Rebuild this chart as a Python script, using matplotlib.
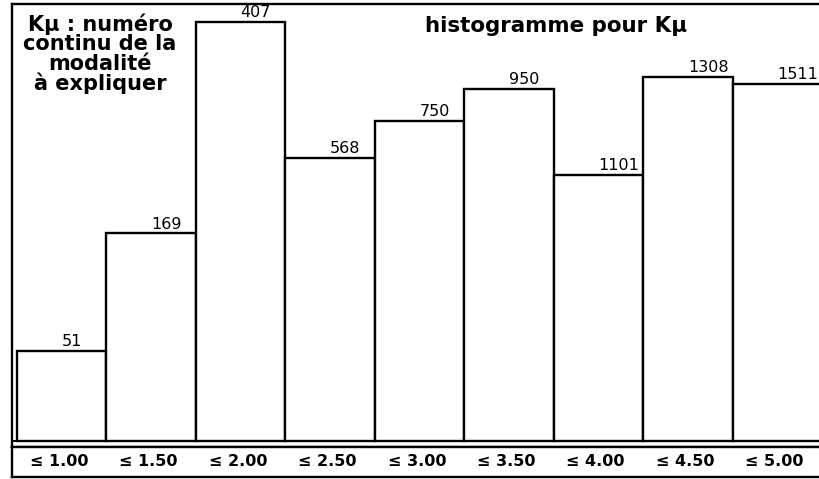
import matplotlib.pyplot as plt

# classes, effectifs et effectifs cumules
classes = ["≤ 1.00", "≤ 1.50", "≤ 2.00", "≤ 2.50", "≤ 3.00",
           "≤ 3.50", "≤ 4.00", "≤ 4.50", "≤ 5.00"]
effectifs = [51, 118, 238, 161, 182, 200, 151, 207, 203]
cumules = [51, 169, 407, 568, 750, 950, 1101, 1308, 1511]

W, H = 819, 479
fig = plt.figure(figsize=(W / 100, H / 100), dpi=100)

px_x = 89.44  # pixels par classe
left_px, right_px = 12, 826
x0 = -0.5 - (17 - left_px) / px_x
x1 = x0 + (right_px - left_px) / px_x

# zone des barres : de y=4 px a y=447 px
top_px, base_px, bot_px = 4, 441, 447
scale = 1.76
ax = fig.add_axes([left_px / W, (H - bot_px) / H,
                   (right_px - left_px) / W, (bot_px - top_px) / H])
ax.set_xlim(x0, x1)
ax.set_ylim(-(bot_px - base_px) / scale, (base_px - top_px) / scale)

pos = list(range(len(classes)))
ax.bar(pos, effectifs, width=1.0, bottom=0, color="white",
       edgecolor="black", linewidth=1.7)
for p, h, c in zip(pos, effectifs, cumules):
    ax.text(p, h + 1.0, str(c), ha="left", va="bottom", fontsize=11.5,
            color="black")
ax.axhline(0, color="black", linewidth=1.4)
ax.set_xticks([])
ax.set_yticks([])
for s in ["left", "top", "bottom"]:
    ax.spines[s].set_linewidth(1.7)
ax.spines["right"].set_visible(False)

ax.text(100 / W, 1 - 54 / H, "Kµ : numéro\ncontinu de la\nmodalité\nà expliquer",
        transform=fig.transFigure, ha="center", va="center",
        fontsize=15, fontweight="bold", linespacing=0.95)
ax.text(556 / W, 1 - 26 / H, "histogramme pour Kµ",
        transform=fig.transFigure, ha="center", va="center",
        fontsize=15.4, fontweight="bold")

# rangee des etiquettes de classes
ax2 = fig.add_axes([left_px / W, (H - 477) / H,
                    (right_px - left_px) / W, (477 - bot_px) / H])
ax2.set_xlim(x0, x1)
ax2.set_ylim(0, 1)
for p, lab in zip(pos, classes):
    ax2.text(p - 0.03, 0.5, lab, ha="center", va="center", fontsize=11.5,
             fontweight="bold")
ax2.set_xticks([])
ax2.set_yticks([])
for s in ["left", "top", "bottom"]:
    ax2.spines[s].set_linewidth(1.7)
ax2.spines["right"].set_visible(False)

fig.savefig("out.png", dpi=100)
